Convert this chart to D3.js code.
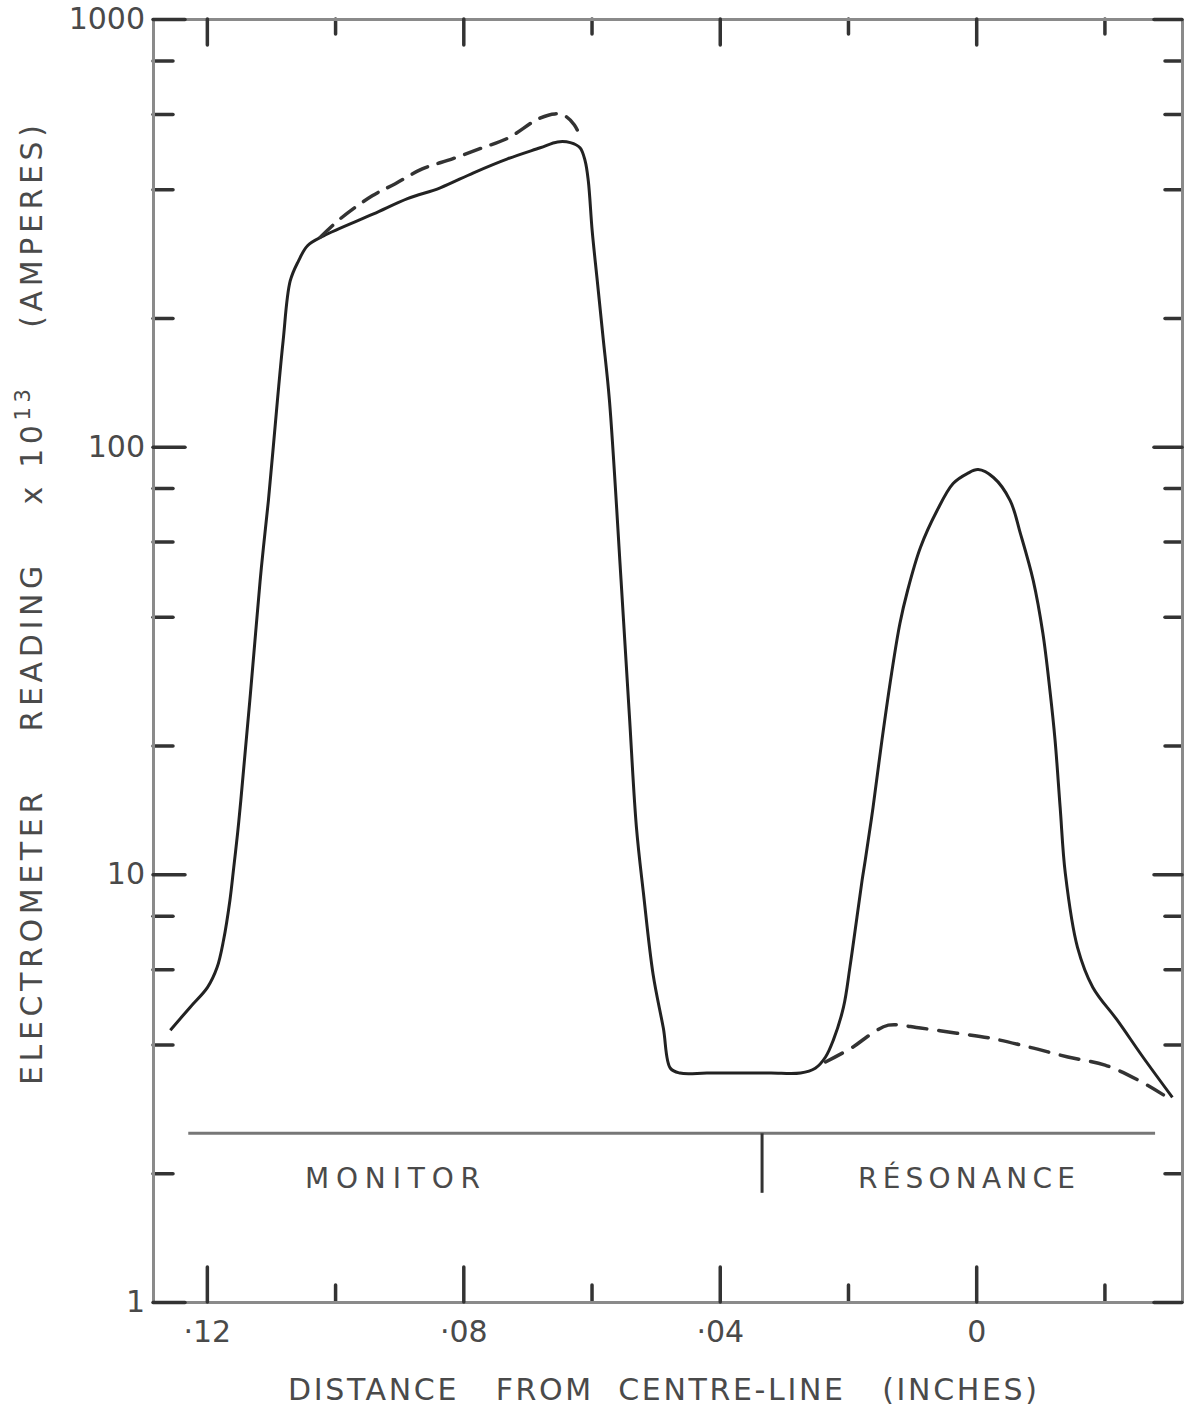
<!DOCTYPE html>
<html>
<head>
<meta charset="utf-8">
<script src="https://cdn.jsdelivr.net/npm/d3@7"></script>
<style>
  html, body { margin: 0; padding: 0; background: #fff; }
  svg { display: block; }
  text { font-family: "DejaVu Sans", "Liberation Sans", sans-serif; fill: #4a4a4a; }
</style>
</head>
<body>
<script>
// ---------- data ----------
const xTickMajor = [0.12, 0.08, 0.04, 0];
const xTickMajorLabels = ["·12", "·08", "·04", "0"];
const xTickMinor = [0.10, 0.06, 0.02, -0.02];
const yTickMajor = [1, 10, 100, 1000];
const yTickMajorLabels = ["1", "10", "100", "1000"];
const yTickMinor = [2, 4, 6, 8, 20, 40, 60, 80, 200, 400, 600, 800];

// solid curve: distance from centre-line (inches) and reading (x 1e-13 A)
const solidDistance = [0.1257, 0.1226, 0.1199, 0.1184, 0.1174, 0.1164, 0.1158, 0.1152, 0.1147, 0.1140,
  0.1132, 0.1124, 0.1115, 0.1104, 0.1090, 0.1081, 0.1070, 0.1057, 0.1043, 0.1018,
  0.0940, 0.0887, 0.0836, 0.0784, 0.0731, 0.0680, 0.0653, 0.0633, 0.0618, 0.0610,
  0.0605, 0.0599, 0.0591, 0.0582, 0.0572, 0.0554, 0.0541, 0.0530, 0.0519, 0.0504,
  0.0488, 0.0477, 0.0462, 0.0420, 0.0370, 0.0320, 0.0274, 0.0251, 0.0235, 0.0223,
  0.0207, 0.0197, 0.0186, 0.0178, 0.0173, 0.0161, 0.0147, 0.0132, 0.0119, 0.0107,
  0.0087, 0.0061, 0.0036, 0.0014, -0.0003, -0.0027, -0.0053, -0.0069, -0.0089, -0.0104,
  -0.0115, -0.0123, -0.0131, -0.0139, -0.0158, -0.0182, -0.0220, -0.0260, -0.0306];
const solidReading = [4.32, 4.89, 5.44, 6.06, 7.01, 8.70, 10.4, 12.5, 14.9, 19.5,
  26.5, 36.6, 52.1, 74.8, 128, 177, 244, 272, 295, 311,
  350, 380, 403, 437, 471, 500, 516, 514, 500, 466,
  418, 320, 244, 180, 128, 48.9, 23.6, 12.9, 9.03, 5.84,
  4.37, 3.52, 3.43, 3.43, 3.43, 3.43, 3.43, 3.52, 3.74, 4.09,
  4.89, 6.06, 7.94, 9.68, 10.8, 14.3, 20.6, 29.5, 38.6, 46.1,
  58.1, 70.9, 82.0, 86.5, 88.4, 84.7, 74.8, 62.6, 48.6, 36.6,
  26.9, 20.6, 14.3, 10.05, 6.75, 5.44, 4.56, 3.74, 3.01];

// dashed curve over the monitor plateau
const dashUpperDistance = [0.1023, 0.0992, 0.0942, 0.0906, 0.0864, 0.0817, 0.0770, 0.0730, 0.0683, 0.0657, 0.0641, 0.0627, 0.0618];
const dashUpperReading  = [309, 341, 386, 412, 446, 471, 500, 527, 584, 600, 593, 566, 533];

// dashed curve under the resonance peak
const dashLowerDistance = [0.0235, 0.0193, 0.0165, 0.0137, 0.0087, 0.0030, -0.0022, -0.0084, -0.0143, -0.0201, -0.0253, -0.0292];
const dashLowerReading  = [3.64, 3.94, 4.22, 4.44, 4.37, 4.25, 4.14, 3.94, 3.74, 3.58, 3.30, 3.05];

// region bracket
const bracketDistance = [0.1229, -0.0279];
const bracketLevel = 2.48;
const dividerDistance = 0.0334;
const dividerLevels = [2.48, 1.80];
const regionLabels = ["MONITOR", "RÉSONANCE"];

// ---------- layout ----------
const W = 1193, H = 1411;
const L = 153, R = 1182, T = 19, B = 1302;

const svg = d3.select("body").append("svg").attr("width", W).attr("height", H);

const x = d3.scaleLinear().domain([0.1284, -0.0321]).range([L, R]);
const y = d3.scaleLog().domain([1, 1000]).range([B, T]);

function styleAxis(g) {
  g.select(".domain").attr("stroke", "#8a8a8a").attr("stroke-width", 3);
  g.selectAll(".tick line").attr("stroke", "#333").attr("stroke-width", 3.5).attr("stroke-linecap", "round");
  g.selectAll(".tick text").style("font-family", "DejaVu Sans, sans-serif").attr("fill", "#4a4a4a");
}

// bottom axis
svg.append("g").attr("transform", `translate(0,${B})`)
  .call(d3.axisBottom(x).tickValues(xTickMinor).tickSize(-17).tickSizeOuter(0).tickFormat(""))
  .call(styleAxis);
const gxb = svg.append("g").attr("transform", `translate(0,${B})`)
  .call(d3.axisBottom(x).tickValues(xTickMajor).tickSize(-35).tickSizeOuter(0).tickPadding(19)
    .tickFormat((d, i) => xTickMajorLabels[i]))
  .call(styleAxis);
gxb.selectAll(".tick text").attr("font-size", 30);

// top axis
svg.append("g").attr("transform", `translate(0,${T})`)
  .call(d3.axisTop(x).tickValues(xTickMinor).tickSize(-15).tickSizeOuter(0).tickFormat(""))
  .call(styleAxis);
svg.append("g").attr("transform", `translate(0,${T})`)
  .call(d3.axisTop(x).tickValues(xTickMajor).tickSize(-26).tickSizeOuter(0).tickFormat(""))
  .call(styleAxis);

// left axis
svg.append("g").attr("transform", `translate(${L},0)`)
  .call(d3.axisLeft(y).tickValues(yTickMinor).tickSize(-20).tickSizeOuter(0).tickFormat(""))
  .call(styleAxis);
const gyl = svg.append("g").attr("transform", `translate(${L},0)`)
  .call(d3.axisLeft(y).tickValues(yTickMajor).tickSize(-32).tickSizeOuter(0).tickPadding(8)
    .tickFormat((d, i) => yTickMajorLabels[i]))
  .call(styleAxis);
gyl.selectAll(".tick text").attr("font-size", 30);

// right axis
svg.append("g").attr("transform", `translate(${R},0)`)
  .call(d3.axisRight(y).tickValues(yTickMinor).tickSize(-17).tickSizeOuter(0).tickFormat(""))
  .call(styleAxis);
svg.append("g").attr("transform", `translate(${R},0)`)
  .call(d3.axisRight(y).tickValues(yTickMajor).tickSize(-28).tickSizeOuter(0).tickFormat(""))
  .call(styleAxis);

// ---------- curves ----------
const line = d3.line().x(d => x(d[0])).y(d => y(d[1])).curve(d3.curveCatmullRom.alpha(0.5));

svg.append("path")
  .datum(solidDistance.map((d, i) => [d, solidReading[i]]))
  .attr("d", line).attr("fill", "none").attr("stroke", "#222").attr("stroke-width", 3)
  .attr("stroke-linejoin", "round");

svg.append("path")
  .datum(dashUpperDistance.map((d, i) => [d, dashUpperReading[i]]))
  .attr("d", line).attr("fill", "none").attr("stroke", "#333").attr("stroke-width", 3.5)
  .attr("stroke-dasharray", "17 11").attr("stroke-linecap", "round");

svg.append("path")
  .datum(dashLowerDistance.map((d, i) => [d, dashLowerReading[i]]))
  .attr("d", line).attr("fill", "none").attr("stroke", "#333").attr("stroke-width", 3.5)
  .attr("stroke-dasharray", "19 12").attr("stroke-linecap", "round");

// ---------- region bracket ----------
svg.append("line")
  .attr("x1", x(bracketDistance[0])).attr("x2", x(bracketDistance[1]))
  .attr("y1", y(bracketLevel)).attr("y2", y(bracketLevel))
  .attr("stroke", "#777").attr("stroke-width", 3);
svg.append("line")
  .attr("x1", x(dividerDistance)).attr("x2", x(dividerDistance))
  .attr("y1", y(dividerLevels[0])).attr("y2", y(dividerLevels[1]))
  .attr("stroke", "#333").attr("stroke-width", 3);

svg.append("text").attr("x", 305).attr("y", 1188).attr("font-size", 28)
  .attr("textLength", 175).attr("lengthAdjust", "spacing").text(regionLabels[0]);
svg.append("text").attr("x", 858).attr("y", 1188).attr("font-size", 28)
  .attr("textLength", 217).attr("lengthAdjust", "spacing").text(regionLabels[1]);

// ---------- axis titles ----------
svg.append("text").attr("x", 288).attr("y", 1400).attr("font-size", 30)
  .attr("textLength", 749).attr("lengthAdjust", "spacing")
  .style("white-space", "pre")
  .text("DISTANCE   FROM  CENTRE-LINE   (INCHES)");

const yt = svg.append("text")
  .attr("transform", "translate(42,1085) rotate(-90)")
  .attr("x", 0).attr("y", 0).attr("font-size", 30)
  .attr("textLength", 960).attr("lengthAdjust", "spacing")
  .style("white-space", "pre");
yt.append("tspan").text("ELECTROMETER    READING    x 10");
yt.append("tspan").attr("font-size", 21).attr("baseline-shift", "super").text("13");
yt.append("tspan").text("    (AMPERES)");
</script>
</body>
</html>
